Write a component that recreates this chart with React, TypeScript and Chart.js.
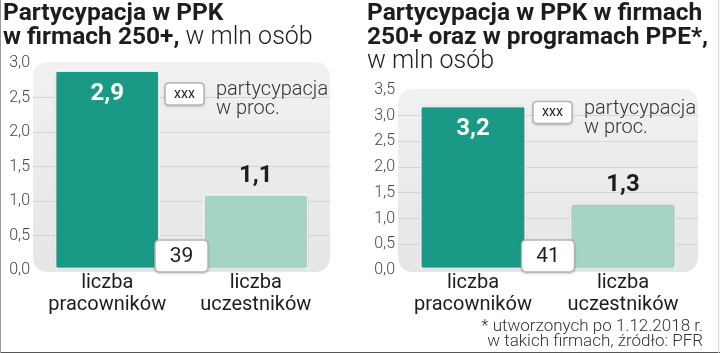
import React, { useEffect, useRef } from "react";
import { Chart, registerables } from "chart.js";

Chart.register(...registerables);

// ---------- data ----------
const categories = [["liczba", "pracowników"], ["liczba", "uczestników"]];
const ppkValues = [2.9, 1.1];
const ppkPpeValues = [3.2, 1.3];
const ppkParticipation = 39;
const ppkPpeParticipation = 41;
const ppkAxisMax = 3.0;
const ppkPpeAxisMax = 3.5;
const axisStep = 0.5;
const leftTitle: [string, boolean][][] = [
  [["Partycypacja w PPK", true]],
  [["w firmach 250+,", true], [" w mln osób", false]],
];
const rightTitle: [string, boolean][][] = [
  [["Partycypacja w PPK w firmach", true]],
  [["250+ oraz w programach PPE*,", true]],
  [["w mln osób", false]],
];
const legendBoxText = "xxx";
const legendLines = ["partycypacja", "w proc."];
const footnoteLines = ["* utworzonych po 1.12.2018 r.", "w takich firmach, źródło: PFR"];

// ---------- styles ----------
const DARK_TEAL = "#1a9a86";
const LIGHT_TEAL = "#a5d4c6";
const FONT = "Roboto";
const TEXT = "#1d1d1d";

const fmt = (v: number) => v.toFixed(1).replace(".", ",");

function roundRect(ctx: CanvasRenderingContext2D, x: number, y: number, w: number, h: number, r: number) {
  ctx.beginPath();
  ctx.moveTo(x + r, y);
  ctx.lineTo(x + w - r, y);
  ctx.quadraticCurveTo(x + w, y, x + w, y + r);
  ctx.lineTo(x + w, y + h - r);
  ctx.quadraticCurveTo(x + w, y + h, x + w - r, y + h);
  ctx.lineTo(x + r, y + h);
  ctx.quadraticCurveTo(x, y + h, x, y + h - r);
  ctx.lineTo(x, y + r);
  ctx.quadraticCurveTo(x, y, x + r, y);
  ctx.closePath();
}

function whiteBox(ctx: CanvasRenderingContext2D, x: number, y: number, w: number, h: number, r: number) {
  ctx.save();
  ctx.shadowColor = "rgba(0,0,0,0.35)";
  ctx.shadowBlur = 3;
  ctx.shadowOffsetY = 1;
  roundRect(ctx, x, y, w, h, r);
  ctx.fillStyle = "#ffffff";
  ctx.fill();
  ctx.restore();
  ctx.save();
  roundRect(ctx, x, y, w, h, r);
  ctx.strokeStyle = "#b5b5b5";
  ctx.lineWidth = 1.5;
  ctx.stroke();
  ctx.restore();
}

type PanelCfg = {
  values: number[];
  max: number;
  pct: number;
  title: [string, boolean][][];
  titleX: number;
  axisWidth: number;
  padTop: number;
  padRight: number;
  legendX: number;
  legendCY: number;
  footnote: boolean;
  frameLeft: boolean;
  frameRight: boolean;
};

const panelPlugin = {
  id: "panelDeco",
  beforeDraw(chart: any, _a: any, opts: any) {
    const { ctx, chartArea: a } = chart;
    ctx.save();
    const g = ctx.createLinearGradient(0, a.top, 0, a.bottom);
    g.addColorStop(0, "#f1f1f1");
    g.addColorStop(1, "#e6e6e6");
    ctx.fillStyle = g;
    roundRect(ctx, a.left, a.top - 1, a.right - a.left, a.bottom - a.top + 3, 16);
    ctx.fill();
    ctx.restore();
  },
  beforeDatasetsDraw(chart: any) {
    const ctx = chart.ctx;
    ctx.save();
    ctx.shadowColor = "rgba(0,0,0,0.3)";
    ctx.shadowBlur = 3;
    ctx.shadowOffsetY = 0;
  },
  afterDatasetsDraw(chart: any) {
    chart.ctx.restore();
  },
  afterDraw(chart: any, _a: any, opts: any) {
    const cfg: PanelCfg = opts.cfg;
    const { ctx, chartArea: a } = chart;
    const meta = chart.getDatasetMeta(0);
    ctx.save();

    // titles
    const baselines = [20, 44, 68];
    cfg.title.forEach((line, i) => {
      let x = cfg.titleX;
      line.forEach(([t, bold]) => {
        ctx.font = bold ? `700 24.5px ${FONT}` : `300 25px ${FONT}`;
        ctx.fillStyle = TEXT;
        ctx.textAlign = "left";
        ctx.textBaseline = "alphabetic";
        ctx.fillText(t, x, baselines[i]);
        x += ctx.measureText(t).width;
      });
    });

    // value labels
    meta.data.forEach((bar: any, i: number) => {
      const v = cfg.values[i];
      ctx.font = `700 24px ${FONT}`;
      ctx.textAlign = "center";
      ctx.textBaseline = "middle";
      if (i === 0) {
        ctx.fillStyle = "#ffffff";
        ctx.fillText(fmt(v), bar.x, bar.y + 24);
      } else {
        ctx.fillStyle = TEXT;
        ctx.fillText(fmt(v), bar.x, bar.y - 18);
      }
    });

    // participation box
    const cx = (a.left + a.right) / 2;
    const bw = 53, bh = 32;
    whiteBox(ctx, cx - bw / 2, a.bottom + 2 - bh, bw, bh, 5);
    ctx.font = `400 21px ${FONT}`;
    ctx.fillStyle = TEXT;
    ctx.textAlign = "center";
    ctx.textBaseline = "middle";
    ctx.fillText(String(cfg.pct), cx, a.bottom + 2 - bh / 2 + 1);

    // legend
    const lw = 39, lh = 22;
    whiteBox(ctx, cfg.legendX, cfg.legendCY - lh / 2, lw, lh, 4);
    ctx.font = `400 14px ${FONT}`;
    ctx.fillStyle = TEXT;
    ctx.fillText(legendBoxText, cfg.legendX + lw / 2, cfg.legendCY);
    ctx.font = `300 20px ${FONT}`;
    ctx.fillStyle = "#333";
    ctx.textAlign = "left";
    ctx.textBaseline = "alphabetic";
    ctx.fillText(legendLines[0], cfg.legendX + lw + 12, cfg.legendCY + 1);
    ctx.fillText(legendLines[1], cfg.legendX + lw + 12, cfg.legendCY + 20);

    // footnote
    if (cfg.footnote) {
      ctx.font = `300 17px ${FONT}`;
      ctx.fillStyle = "#333";
      ctx.textAlign = "right";
      ctx.textBaseline = "middle";
      ctx.fillText(footnoteLines[0], 343, 327);
      ctx.fillText(footnoteLines[1], 343, 342);
    }

    // frame
    ctx.strokeStyle = "#555";
    ctx.lineWidth = 1;
    ctx.beginPath();
    ctx.moveTo(0, 352.5);
    ctx.lineTo(360, 352.5);
    ctx.stroke();
    if (cfg.frameLeft) {
      ctx.strokeStyle = "#999";
      ctx.beginPath();
      ctx.moveTo(0.5, 0);
      ctx.lineTo(0.5, 353);
      ctx.stroke();
    }
    if (cfg.frameRight) {
      ctx.strokeStyle = "#bbb";
      ctx.setLineDash([1, 1]);
      ctx.beginPath();
      ctx.moveTo(358.5, 0);
      ctx.lineTo(358.5, 353);
      ctx.stroke();
    }
    ctx.restore();
  },
};

function Panel({ cfg }: { cfg: PanelCfg }) {
  const ref = useRef<HTMLCanvasElement>(null);
  useEffect(() => {
    if (!ref.current) return;
    const chart = new Chart(ref.current, {
      type: "bar",
      data: {
        labels: categories as any,
        datasets: [
          {
            data: cfg.values,
            backgroundColor: [DARK_TEAL, LIGHT_TEAL],
            borderColor: "#ffffff",
            borderWidth: 2,
            borderRadius: 3,
            borderSkipped: false,
            barPercentage: 0.71,
            categoryPercentage: 1,
          },
        ],
      },
      options: {
        responsive: false,
        animation: false,
        devicePixelRatio: 1,
        layout: { padding: { top: cfg.padTop, right: cfg.padRight, left: 0, bottom: 0 } },
        plugins: {
          legend: { display: false },
          tooltip: { enabled: false },
          panelDeco: { cfg },
        } as any,
        scales: {
          x: {
            grid: { display: false, drawTicks: false },
            border: { display: false },
            ticks: {
              padding: 2,
              color: TEXT,
              font: { family: FONT, size: 20, weight: "400", lineHeight: 1.1 },
              maxRotation: 0,
              autoSkip: false,
            },
            afterFit: (s: any) => {
              s.height = 83;
            },
          },
          y: {
            min: 0,
            max: cfg.max,
            grid: {
              drawTicks: false,
              color: (c: any) =>
                c.tick && (c.tick.value === 0 || c.tick.value === cfg.max) ? "rgba(0,0,0,0)" : "#d4d4d4",
              lineWidth: 1,
            },
            border: { display: false },
            ticks: {
              stepSize: axisStep,
              padding: 3,
              color: "#444",
              font: { family: FONT, size: 16, weight: "300" },
              callback: (v: any) => fmt(Number(v)),
            },
            afterFit: (s: any) => {
              s.width = cfg.axisWidth;
            },
          },
        },
      },
      plugins: [panelPlugin as any],
    });
    return () => chart.destroy();
  }, [cfg]);
  return <canvas ref={ref} width={360} height={353} style={{ display: "block", width: 360, height: 353 }} />;
}

const leftCfg: PanelCfg = {
  values: ppkValues,
  max: ppkAxisMax,
  pct: ppkParticipation,
  title: leftTitle,
  titleX: 3,
  axisWidth: 33,
  padTop: 63,
  padRight: 30,
  legendX: 165,
  legendCY: 94,
  footnote: false,
  frameLeft: true,
  frameRight: false,
};

const rightCfg: PanelCfg = {
  values: ppkPpeValues,
  max: ppkPpeAxisMax,
  pct: ppkPpeParticipation,
  title: rightTitle,
  titleX: 7,
  axisWidth: 38,
  padTop: 90,
  padRight: 22,
  legendX: 173,
  legendCY: 112.5,
  footnote: true,
  frameLeft: false,
  frameRight: true,
};

export default function App() {
  useEffect(() => {
    document.body.style.margin = "0";
    document.body.style.background = "#ffffff";
  }, []);
  return (
    <div style={{ display: "flex", width: 720, height: 353, overflow: "hidden", background: "#fff" }}>
      <Panel cfg={leftCfg} />
      <Panel cfg={rightCfg} />
    </div>
  );
}
